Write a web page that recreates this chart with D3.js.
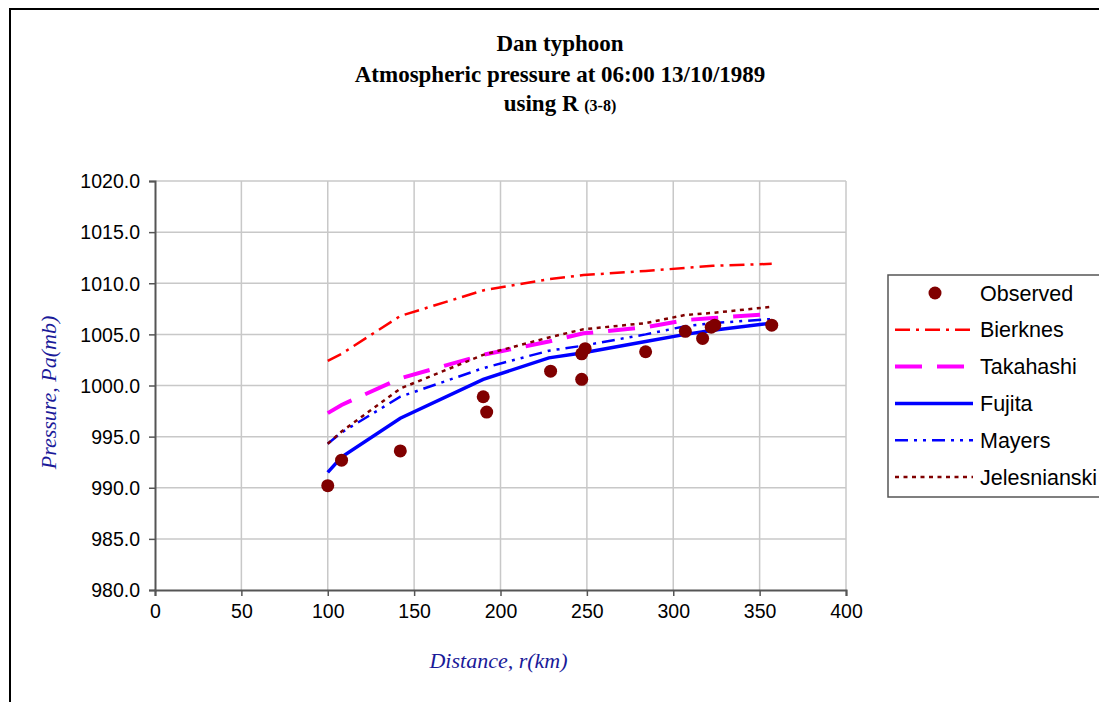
<!DOCTYPE html>
<html>
<head>
<meta charset="utf-8">
<script src="https://cdn.jsdelivr.net/npm/d3@7"></script>
<style>
  body { margin: 0; background: #fff; }
  svg { display: block; }
  .tick text { font-family: "Liberation Sans", Arial, sans-serif; font-size: 19.5px; fill: #000; }
</style>
</head>
<body>
<svg id="chart" width="1099" height="702"></svg>
<script>
// distances (km) where the model curves were evaluated
var distances = [100, 108, 142, 190, 228, 248, 284, 307, 323, 357];

var bierknes     = [1002.4, 1003.1, 1006.8, 1009.3, 1010.4, 1010.8, 1011.2, 1011.5, 1011.7, 1011.9];
var takahashi    = [997.3, 998.1, 1000.7, 1003.0, 1004.3, 1005.1, 1005.7, 1006.4, 1006.6, 1007.0];
var fujita       = [991.5, 993.0, 996.8, 1000.6, 1002.7, 1003.2, 1004.3, 1005.0, 1005.4, 1006.1];
var mayers       = [994.3, 995.4, 998.9, 1001.7, 1003.4, 1003.9, 1005.0, 1005.8, 1006.1, 1006.5];
var jelesnianski = [994.3, 995.5, 999.7, 1003.0, 1004.7, 1005.5, 1006.1, 1006.9, 1007.1, 1007.7];

// observed stations
var obsDistance = [100, 108, 142, 190, 192, 229, 247, 249, 247, 284, 307, 317, 322, 324, 357];
var obsPressure = [990.2, 992.7, 993.6, 998.9, 997.4, 1001.4, 1003.1, 1003.6, 1000.6, 1003.3, 1005.3, 1004.6, 1005.7, 1005.9, 1005.9];

var xTicks = [0, 50, 100, 150, 200, 250, 300, 350, 400];
var yTicks = [980, 985, 990, 995, 1000, 1005, 1010, 1015, 1020];

var titleLines = ["Dan typhoon", "Atmospheric pressure at 06:00 13/10/1989"];

var series = [
  {name: "Bierknes",     values: bierknes,     color: "#ff0000", width: 2.5, dash: "15,6,3,6"},
  {name: "Takahashi",    values: takahashi,    color: "#ff00ff", width: 4,   dash: "27,15"},
  {name: "Fujita",       values: fujita,       color: "#0000ff", width: 3.5, dash: null},
  {name: "Mayers",       values: mayers,       color: "#0000ff", width: 2.5, dash: "13,6,3,6,3,6"},
  {name: "Jelesnianski", values: jelesnianski, color: "#800000", width: 2.5, dash: "4,4.5"}
];

var svg = d3.select("#chart"),
    margin = {top: 181, left: 155},
    width = 691,
    height = 409;

// outer chart frame (cut off at right and bottom like the original)
svg.append("rect")
  .attr("x", 10).attr("y", 9)
  .attr("width", 1200).attr("height", 800)
  .attr("fill", "none").attr("stroke", "#000").attr("stroke-width", 2);

var x = d3.scaleLinear().domain([0, 400]).range([0, width]),
    y = d3.scaleLinear().domain([980, 1020]).range([height, 0]);

var g = svg.append("g")
  .attr("transform", "translate(" + margin.left + "," + margin.top + ")");

// grid
g.append("g").selectAll("line").data(xTicks.slice(1)).enter().append("line")
  .attr("x1", function(d) { return x(d); }).attr("x2", function(d) { return x(d); })
  .attr("y1", 0).attr("y2", height)
  .attr("stroke", "#c8c8c8").attr("stroke-width", 1.5);
g.append("g").selectAll("line").data(yTicks.slice(1)).enter().append("line")
  .attr("y1", function(d) { return y(d); }).attr("y2", function(d) { return y(d); })
  .attr("x1", 0).attr("x2", width)
  .attr("stroke", "#c8c8c8").attr("stroke-width", 1.5);

// axes
var xAxis = d3.axisBottom(x).tickValues(xTicks).tickSize(6).tickPadding(8).tickFormat(d3.format("d"));
var yAxis = d3.axisLeft(y).tickValues(yTicks).tickSize(6).tickPadding(9).tickFormat(d3.format(".1f"));

var gx = g.append("g").attr("transform", "translate(0," + height + ")").call(xAxis);
var gy = g.append("g").call(yAxis);
[gx, gy].forEach(function(a) {
  a.select(".domain").attr("stroke", "#555").attr("stroke-width", 2);
  a.selectAll(".tick line").attr("stroke", "#555").attr("stroke-width", 1.5);
});
gy.selectAll(".tick text").attr("dy", "0.35em");

// model curves
var line = d3.line()
  .x(function(d, i) { return x(distances[i]); })
  .y(function(d) { return y(d); });

series.forEach(function(s) {
  g.append("path")
    .datum(s.values)
    .attr("d", line)
    .attr("fill", "none")
    .attr("stroke", s.color)
    .attr("stroke-width", s.width)
    .attr("stroke-dasharray", s.dash);
});

// observations
g.append("g").selectAll("circle").data(obsDistance).enter().append("circle")
  .attr("cx", function(d) { return x(d); })
  .attr("cy", function(d, i) { return y(obsPressure[i]); })
  .attr("r", 6.5)
  .attr("fill", "#800000");

// titles
var title = svg.append("text")
  .attr("text-anchor", "middle")
  .style("font-family", "'Liberation Serif', 'Times New Roman', serif")
  .style("font-weight", "bold")
  .style("font-size", "23px");
titleLines.forEach(function(t, i) {
  title.append("tspan").attr("x", 560).attr("y", 51 + i * 31).text(t);
});
var t3 = title.append("tspan").attr("x", 560).attr("y", 111);
t3.append("tspan").text("using R ");
t3.append("tspan").style("font-size", "16px").text("(3-8)");

svg.append("text")
  .attr("x", margin.left + x(200) - 2).attr("y", 668)
  .attr("text-anchor", "middle")
  .style("font-family", "'Liberation Serif', 'Times New Roman', serif")
  .style("font-style", "italic").style("font-size", "22px")
  .attr("fill", "#1a1a99")
  .text("Distance, r(km)");

svg.append("text")
  .attr("transform", "translate(56," + (margin.top + y(1000) + 7) + ") rotate(-90)")
  .attr("text-anchor", "middle")
  .style("font-family", "'Liberation Serif', 'Times New Roman', serif")
  .style("font-style", "italic").style("font-size", "22px")
  .attr("fill", "#1a1a99")
  .text("Pressure, Pa(mb)");

// legend
var legend = svg.append("g").attr("transform", "translate(888,275)");
legend.append("rect")
  .attr("width", 212).attr("height", 222)
  .attr("fill", "#fff").attr("stroke", "#555").attr("stroke-width", 1.5);

var legendItems = [{name: "Observed"}].concat(series);
var rows = legend.selectAll("g.item").data(legendItems).enter().append("g")
  .attr("class", "item")
  .attr("transform", function(d, i) { return "translate(0," + (18 + i * 36.8) + ")"; });

rows.each(function(d, i) {
  var r = d3.select(this);
  if (i === 0) {
    r.append("circle").attr("cx", 47).attr("cy", 0).attr("r", 6.5).attr("fill", "#800000");
  } else {
    r.append("line")
      .attr("x1", 7).attr("x2", 85).attr("y1", 0).attr("y2", 0)
      .attr("stroke", d.color).attr("stroke-width", d.width)
      .attr("stroke-dasharray", d.dash);
  }
  r.append("text")
    .attr("x", 92).attr("y", 0).attr("dy", "0.35em")
    .style("font-family", "'Liberation Sans', Arial, sans-serif")
    .style("font-size", "21.5px")
    .text(d.name);
});
</script>
</body>
</html>
